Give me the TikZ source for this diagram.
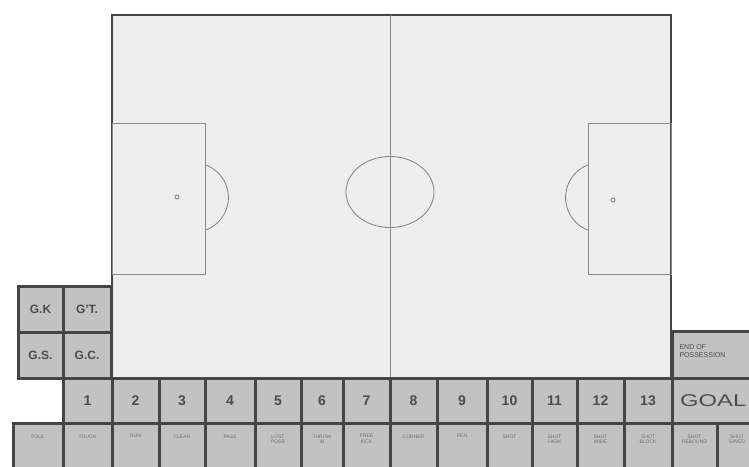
\documentclass[tikz,border=0pt]{standalone}
\usepackage{fontspec}
\setmainfont{Liberation Sans}
\usetikzlibrary{shapes.geometric}
\definecolor{edge}{HTML}{454545}
\definecolor{cellfill}{HTML}{C2C2C2}
\definecolor{pitchfill}{HTML}{EEEEEE}
\definecolor{mark}{HTML}{8A8A8A}
\definecolor{ink}{HTML}{4C4C4C}
\tikzset{
  cellbox/.style={draw=edge, line width=3pt, fill=cellfill, inner sep=0pt, outer sep=0pt, text=ink},
  numtext/.style={font=\fontsize{14}{14}\selectfont\bfseries},
  gtext/.style={font=\fontsize{12}{12}\selectfont\bfseries},
  tinytext/.style={font=\fontsize{5}{5.5}\selectfont, text=ink!80, align=center, anchor=north, yshift=-8pt},
  pitchline/.style={draw=mark, line width=0.9pt},
}
\newcommand{\mycell}[7][]{%
  \node[cellbox, #1, minimum width={(#5-#3)*1pt}, minimum height={(#6-#4)*1pt}] (#2) at ({(#3+#5)/2},{(#4+#6)/2}) {#7};}
\begin{document}
\begin{tikzpicture}[x=1pt, y=-1pt]
\useasboundingbox (0,0) rectangle (749,466);
\fill[white] (0,0) rectangle (749,466);
\clip (0,0) rectangle (749,466);
% pitch
\node[draw=edge, line width=2.5pt, fill=pitchfill, inner sep=0pt, outer sep=0pt,
      minimum width=559pt, minimum height=363pt] (pitch) at (391.5,196.5) {};
\coordinate (halftop) at (390,15);
\coordinate (halfbot) at (390,378);
\draw[pitchline] (halftop) -- (halfbot);
\node[pitchline, ellipse, minimum width=88pt, minimum height=71pt, inner sep=0pt] (centre) at (390,192) {};
% left penalty area
\node[pitchline, inner sep=0pt, minimum width=93pt, minimum height=151pt] (lbox) at (158.5,198.5) {};
\node[pitchline, circle, minimum size=4pt, inner sep=0pt] (lspot) at (177,197) {};
\draw[pitchline] (lbox.east |- 0,165) arc[start angle=-70.5, end angle=70.5, radius=34.5];
% right penalty area
\node[pitchline, inner sep=0pt, minimum width=83pt, minimum height=151pt] (rbox) at (629.5,198.5) {};
\node[pitchline, circle, minimum size=4pt, inner sep=0pt] (rspot) at (613,200) {};
\draw[pitchline] (rbox.west |- 0,165) arc[start angle=248.2, end angle=111.8, radius=35];
% G boxes
\mycell[gtext]{gk}{18}{286}{63}{332}{G.K}
\mycell[gtext]{gt}{63}{286}{111}{332}{G'T.}
\mycell[gtext]{gs}{18}{332}{63}{378}{G.S.}
\mycell[gtext]{gc}{63}{332}{111}{378}{G.C.}
% end of possession
\mycell{eop}{672}{331}{765}{378}{}
\node[font=\fontsize{7}{8}\selectfont, text=ink, align=left, anchor=north west] (eoptext) at (676,341) {END OF\\POSSESSION};
% number row
\mycell[numtext]{n1}{63}{378}{112}{423}{1}
\mycell[numtext]{n2}{112}{378}{159}{423}{2}
\mycell[numtext]{n3}{159}{378}{205}{423}{3}
\mycell[numtext]{n4}{205}{378}{255}{423}{4}
\mycell[numtext]{n5}{255}{378}{301}{423}{5}
\mycell[numtext]{n6}{301}{378}{343}{423}{6}
\mycell[numtext]{n7}{343}{378}{390}{423}{7}
\mycell[numtext]{n8}{390}{378}{437}{423}{8}
\mycell[numtext]{n9}{437}{378}{487}{423}{9}
\mycell[numtext]{n10}{487}{378}{532}{423}{10}
\mycell[numtext]{n11}{532}{378}{577}{423}{11}
\mycell[numtext]{n12}{577}{378}{624}{423}{12}
\mycell[numtext]{n13}{624}{378}{672}{423}{13}
\mycell{ngoal}{672}{378}{790}{423}{}
\node[text=ink, font=\fontsize{17}{17}\selectfont, anchor=west, inner sep=1pt] (goaltext) at (679,401) {\scalebox{1.4}[1]{GOAL}};
% bottom row
\foreach \nm/\xa/\xb/\txt in {
  b1/13/63/FOUL, b2/63/112/TOUCH, b3/112/159/RUN, b4/159/205/CLEAR,
  b5/205/255/PASS, b6/255/301/{LOST\\POSS}, b7/301/343/{THROW\\IN},
  b8/343/390/{FREE\\KICK}, b9/390/437/CORNER, b10/437/487/PEN,
  b11/487/532/SHOT, b12/532/577/{SHOT\\HIGH}, b13/577/624/{SHOT\\WIDE},
  b14/624/672/{SHOT\\BLOCK}, b15/672/717/{SHOT\\REBOUND}} {
  \mycell[label={[tinytext]north:\txt}]{\nm}{\xa}{423}{\xb}{480}{}
}
\mycell[label={[tinytext, xshift=-4pt]north:SHOT\\SAVED}]{b16}{717}{423}{765}{480}{}
\end{tikzpicture}
\end{document}
